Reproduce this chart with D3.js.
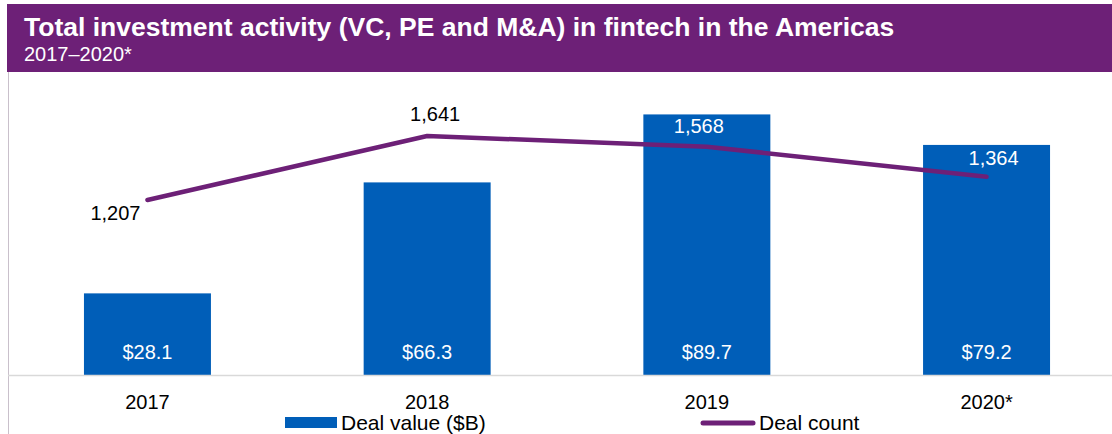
<!DOCTYPE html>
<html>
<head>
<meta charset="utf-8">
<script src="https://d3js.org/d3.v7.min.js"></script>
<style>
  body { margin: 0; background: #fff; }
  svg { display: block; font-family: "Liberation Sans", Arial, sans-serif; }
</style>
</head>
<body>
<div id="vis"></div>
<script>
var width = 1112,
    height = 434;

var years = ["2017", "2018", "2019", "2020*"];
var dealValue = [28.1, 66.3, 89.7, 79.2];
var dealCount = [1207, 1641, 1568, 1364];

var title = "Total investment activity (VC, PE and M&A) in fintech in the Americas";
var subtitle = "2017\u20132020*";

// hand placed count labels, like in the original
var countNudge = [[-32, 20], [8, -15], [-8, -14], [7, -12]];

var blue = "#005eb8",
    purple = "#6d2077";

var svg = d3.select("#vis").append("svg")
    .attr("width", width)
    .attr("height", height);

var x = d3.scaleBand()
    .domain(years)
    .range([7.6, 1126.4])
    .paddingInner(0.546)
    .paddingOuter(0.273);

var yValue = d3.scaleLinear()
    .domain([0, 100])
    .range([375, 84.5]);

var yCount = d3.scaleLinear()
    .domain([0, 2000])
    .range([378, 83]);

// header
svg.append("rect")
    .attr("x", 7)
    .attr("y", 4)
    .attr("width", width - 7)
    .attr("height", 68)
    .attr("fill", purple);

svg.append("text")
    .attr("x", 24)
    .attr("y", 36)
    .attr("fill", "white")
    .style("font-size", "26.5px")
    .style("font-weight", "bold")
    .text(title);

svg.append("text")
    .attr("x", 24)
    .attr("y", 61)
    .attr("fill", "white")
    .style("font-size", "20px")
    .text(subtitle);

// frame lines
svg.append("line")
    .attr("x1", 8.5).attr("x2", 8.5)
    .attr("y1", 72).attr("y2", height)
    .attr("stroke", "#c9c0cb")
    .attr("stroke-width", 1);

// bars
svg.selectAll("rect.bar")
    .data(dealValue)
    .enter()
    .append("rect")
    .attr("class", "bar")
    .attr("x", function(d, i) { return x(years[i]); })
    .attr("y", function(d) { return yValue(d); })
    .attr("width", x.bandwidth())
    .attr("height", function(d) { return yValue(0) - yValue(d); })
    .attr("fill", blue);

svg.append("line")
    .attr("x1", 8).attr("x2", width)
    .attr("y1", 375.5).attr("y2", 375.5)
    .attr("stroke", "#d9d9d9")
    .attr("stroke-width", 1.5);

svg.selectAll("text.value")
    .data(dealValue)
    .enter()
    .append("text")
    .attr("class", "value")
    .attr("x", function(d, i) { return x(years[i]) + x.bandwidth() / 2; })
    .attr("y", yValue(0) - 16)
    .attr("text-anchor", "middle")
    .attr("fill", "white")
    .style("font-size", "20px")
    .text(function(d) { return "$" + d.toFixed(1); });

// deal count line
var line = d3.line()
    .x(function(d, i) { return x(years[i]) + x.bandwidth() / 2; })
    .y(function(d) { return yCount(d); });

svg.append("path")
    .datum(dealCount)
    .attr("d", line)
    .attr("fill", "none")
    .attr("stroke", purple)
    .attr("stroke-width", 4.5)
    .attr("stroke-linejoin", "round")
    .attr("stroke-linecap", "round");

svg.selectAll("text.count")
    .data(dealCount)
    .enter()
    .append("text")
    .attr("class", "count")
    .attr("x", function(d, i) { return x(years[i]) + x.bandwidth() / 2 + countNudge[i][0]; })
    .attr("y", function(d, i) { return yCount(d) + countNudge[i][1]; })
    .attr("text-anchor", "middle")
    .attr("fill", function(d, i) {
      // white when the label sits on top of the bar
      return (yCount(d) + countNudge[i][1] - 14 > yValue(dealValue[i])) ? "white" : "black";
    })
    .style("font-size", "20px")
    .text(function(d) { return d3.format(",")(d); });

// x axis labels
svg.selectAll("text.year")
    .data(years)
    .enter()
    .append("text")
    .attr("class", "year")
    .attr("x", function(d) { return x(d) + x.bandwidth() / 2; })
    .attr("y", 409)
    .attr("text-anchor", "middle")
    .attr("fill", "black")
    .style("font-size", "20px")
    .text(function(d) { return d; });

// legend
var legend = svg.append("g");

legend.append("rect")
    .attr("x", 285)
    .attr("y", 417)
    .attr("width", 52)
    .attr("height", 11)
    .attr("fill", blue);

legend.append("text")
    .attr("x", 341)
    .attr("y", 430)
    .style("font-size", "21px")
    .text("Deal value ($B)");

legend.append("line")
    .attr("x1", 703).attr("x2", 753)
    .attr("y1", 423).attr("y2", 423)
    .attr("stroke", purple)
    .attr("stroke-width", 5)
    .attr("stroke-linecap", "round");

legend.append("text")
    .attr("x", 759)
    .attr("y", 430)
    .style("font-size", "21px")
    .text("Deal count");
</script>
</body>
</html>
